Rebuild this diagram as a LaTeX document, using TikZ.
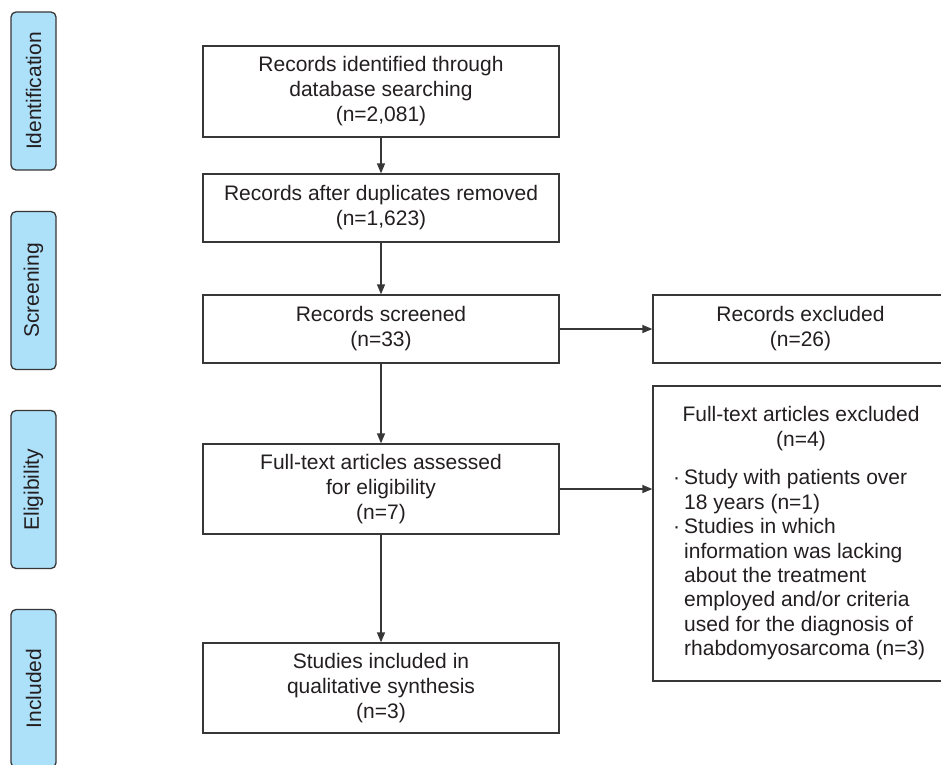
\documentclass[tikz,border=0pt]{standalone}
\usepackage{fontspec}
\setmainfont{Liberation Sans}
\usetikzlibrary{arrows.meta,calc}
\definecolor{tabblue}{RGB}{173,224,249}
\definecolor{linegray}{RGB}{55,55,55}
\definecolor{textgray}{RGB}{35,31,32}
\begin{document}
\begin{tikzpicture}[x=1pt,y=-1pt,
  every node/.style={font=\fontsize{21pt}{25pt}\selectfont, text=textgray},
  stagebox/.style={draw=linegray, line width=1.3pt, fill=tabblue, rounded corners=5pt,
     rotate=90, minimum width=158pt, minimum height=45pt, inner sep=0pt},
  flowbox/.style={draw=linegray, line width=1.3pt, minimum width=356pt, align=center, inner sep=0pt},
  sidebox/.style={draw=linegray, line width=1.3pt, minimum width=295pt, inner sep=0pt},
  flowarrow/.style={draw=linegray, line width=1.3pt, -{Triangle[length=10pt,width=8pt]}}
]
\clip (0,0) rectangle (941,764);
\fill[white] (0,0) rectangle (941,764);
% stage tabs
\node[stagebox] (tid) at (33.5,91) {Identification};
\node[stagebox] (tsc) at (33.5,290.5) {Screening};
\node[stagebox] (tel) at (33.5,489.5) {Eligibility};
\node[stagebox] (tin) at (33.5,688.5) {Included};
% main flow
\node[flowbox, minimum height=91pt] (b1) at (381,91.5) {Records identified through\\database searching\\(n=2,081)};
\node[flowbox, minimum height=68pt] (b2) at (381,208) {Records after duplicates removed\\(n=1,623)};
\node[flowbox, minimum height=68pt] (b3) at (381,329) {Records screened\\(n=33)};
\node[flowbox, minimum height=90pt] (b4) at (381,489) {Full-text articles assessed\\for eligibility\\(n=7)};
\node[flowbox, minimum height=90pt] (b5) at (381,688) {Studies included in\\qualitative synthesis\\(n=3)};
% side boxes
\node[sidebox, minimum height=68pt, align=center] (r1) at (800.5,329) {Records excluded\\(n=26)};
\node[sidebox, minimum height=295pt] (r2) at (800.5,533.5) {};
\node[align=center, anchor=north, inner sep=0pt] (r2head) at (801,406) {Full-text articles excluded\\(n=4)};
\node[align=left, anchor=north west, inner sep=0pt, font=\fontsize{21pt}{24.4pt}\selectfont] (r2list) at (673,469.5)
  {\makebox[11pt][l]{·}Study with patients over\\
   \hspace*{11pt}18 years (n=1)\\
   \makebox[11pt][l]{·}Studies in which\\
   \hspace*{11pt}information was lacking\\
   \hspace*{11pt}about the treatment\\
   \hspace*{11pt}employed and/or criteria\\
   \hspace*{11pt}used for the diagnosis of\\
   \hspace*{11pt}rhabdomyosarcoma (n=3)};
% arrows
\draw[flowarrow] (b1) -- (b2);
\draw[flowarrow] (b2) -- (b3);
\draw[flowarrow] (b3) -- (b4);
\draw[flowarrow] (b4) -- (b5);
\draw[flowarrow] (b3.east) -- (r1.west);
\draw[flowarrow] (b4.east) -- (b4.east -| r2.west);
\end{tikzpicture}
\end{document}
